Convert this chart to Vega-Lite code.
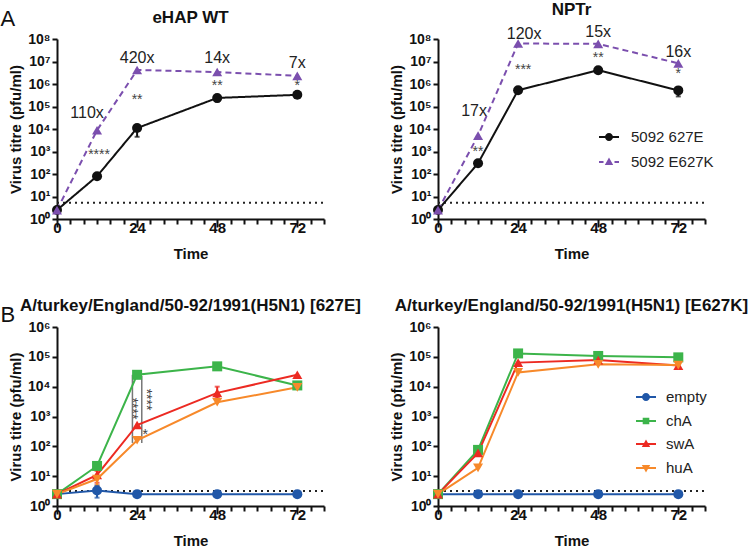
{
  "$schema": "https://vega.github.io/schema/vega-lite/v6.json",
  "padding": {"left": 0, "top": 0, "right": 0, "bottom": 0},
  "background": "white",
  "config": {
    "font": "Liberation Sans",
    "view": {"stroke": null},
    "axis": {"grid": false, "domainColor": "#111111", "domainWidth": 2, "tickColor": "#111111", "tickWidth": 2, "labelFontWeight": "bold", "labelColor": "#111111", "titleFontWeight": "bold", "titleColor": "#111111"},
    "axisX": {"labelPadding": -7, "titlePadding": 11},
    "title": {"fontSize": 17, "fontWeight": "bold", "color": "#111111", "offset": 5},
    "legend": {"labelFontSize": 15, "labelColor": "#222222"}
  },
  "datasets": {
    "growth": [
      {"panel": "eHAP WT", "virus": "5092 627E", "time": 0, "titre": 2.5},
      {"panel": "eHAP WT", "virus": "5092 627E", "time": 12, "titre": 80},
      {"panel": "eHAP WT", "virus": "5092 627E", "time": 24, "titre": 11000},
      {"panel": "eHAP WT", "virus": "5092 627E", "time": 48, "titre": 240000},
      {"panel": "eHAP WT", "virus": "5092 627E", "time": 72, "titre": 330000},
      {"panel": "eHAP WT", "virus": "5092 E627K", "time": 0, "titre": 2.5},
      {"panel": "eHAP WT", "virus": "5092 E627K", "time": 12, "titre": 8800},
      {"panel": "eHAP WT", "virus": "5092 E627K", "time": 24, "titre": 4200000},
      {"panel": "eHAP WT", "virus": "5092 E627K", "time": 48, "titre": 3400000},
      {"panel": "eHAP WT", "virus": "5092 E627K", "time": 72, "titre": 2300000},
      {"panel": "NPTr", "virus": "5092 627E", "time": 0, "titre": 2.5},
      {"panel": "NPTr", "virus": "5092 627E", "time": 12, "titre": 300},
      {"panel": "NPTr", "virus": "5092 627E", "time": 24, "titre": 530000},
      {"panel": "NPTr", "virus": "5092 627E", "time": 48, "titre": 4100000},
      {"panel": "NPTr", "virus": "5092 627E", "time": 72, "titre": 520000},
      {"panel": "NPTr", "virus": "5092 E627K", "time": 0, "titre": 2.5},
      {"panel": "NPTr", "virus": "5092 E627K", "time": 12, "titre": 5100},
      {"panel": "NPTr", "virus": "5092 E627K", "time": 24, "titre": 63000000},
      {"panel": "NPTr", "virus": "5092 E627K", "time": 48, "titre": 61000000},
      {"panel": "NPTr", "virus": "5092 E627K", "time": 72, "titre": 8300000},
      {"panel": "627E", "virus": "empty", "time": 0, "titre": 2.5},
      {"panel": "627E", "virus": "empty", "time": 12, "titre": 3.3},
      {"panel": "627E", "virus": "empty", "time": 24, "titre": 2.5},
      {"panel": "627E", "virus": "empty", "time": 48, "titre": 2.5},
      {"panel": "627E", "virus": "empty", "time": 72, "titre": 2.5},
      {"panel": "627E", "virus": "chA", "time": 0, "titre": 2.5},
      {"panel": "627E", "virus": "chA", "time": 12, "titre": 22},
      {"panel": "627E", "virus": "chA", "time": 24, "titre": 25000},
      {"panel": "627E", "virus": "chA", "time": 48, "titre": 48000},
      {"panel": "627E", "virus": "chA", "time": 72, "titre": 11000},
      {"panel": "627E", "virus": "swA", "time": 0, "titre": 2.5},
      {"panel": "627E", "virus": "swA", "time": 12, "titre": 11},
      {"panel": "627E", "virus": "swA", "time": 24, "titre": 520},
      {"panel": "627E", "virus": "swA", "time": 48, "titre": 6200},
      {"panel": "627E", "virus": "swA", "time": 72, "titre": 25000},
      {"panel": "627E", "virus": "huA", "time": 0, "titre": 2.5},
      {"panel": "627E", "virus": "huA", "time": 12, "titre": 8},
      {"panel": "627E", "virus": "huA", "time": 24, "titre": 160},
      {"panel": "627E", "virus": "huA", "time": 48, "titre": 3000},
      {"panel": "627E", "virus": "huA", "time": 72, "titre": 9500},
      {"panel": "E627K", "virus": "empty", "time": 0, "titre": 2.5},
      {"panel": "E627K", "virus": "empty", "time": 12, "titre": 2.5},
      {"panel": "E627K", "virus": "empty", "time": 24, "titre": 2.5},
      {"panel": "E627K", "virus": "empty", "time": 48, "titre": 2.5},
      {"panel": "E627K", "virus": "empty", "time": 72, "titre": 2.5},
      {"panel": "E627K", "virus": "chA", "time": 0, "titre": 2.5},
      {"panel": "E627K", "virus": "chA", "time": 12, "titre": 76},
      {"panel": "E627K", "virus": "chA", "time": 24, "titre": 130000},
      {"panel": "E627K", "virus": "chA", "time": 48, "titre": 107000},
      {"panel": "E627K", "virus": "chA", "time": 72, "titre": 96000},
      {"panel": "E627K", "virus": "swA", "time": 0, "titre": 2.5},
      {"panel": "E627K", "virus": "swA", "time": 12, "titre": 60},
      {"panel": "E627K", "virus": "swA", "time": 24, "titre": 64000},
      {"panel": "E627K", "virus": "swA", "time": 48, "titre": 78000},
      {"panel": "E627K", "virus": "swA", "time": 72, "titre": 51000},
      {"panel": "E627K", "virus": "huA", "time": 0, "titre": 2.5},
      {"panel": "E627K", "virus": "huA", "time": 12, "titre": 19},
      {"panel": "E627K", "virus": "huA", "time": 24, "titre": 30000},
      {"panel": "E627K", "virus": "huA", "time": 48, "titre": 56000},
      {"panel": "E627K", "virus": "huA", "time": 72, "titre": 53000}
    ],
    "err": [
      {"panel": "eHAP WT", "virus": "5092 627E", "time": 24, "titre": 4500, "titre2": 15000},
      {"panel": "eHAP WT", "virus": "5092 627E", "time": 48, "titre": 160000, "titre2": 290000},
      {"panel": "NPTr", "virus": "5092 627E", "time": 72, "titre": 280000, "titre2": 700000},
      {"panel": "NPTr", "virus": "5092 627E", "time": 24, "titre": 450000, "titre2": 620000},
      {"panel": "627E", "virus": "empty", "time": 12, "titre": 1.9, "titre2": 4.8},
      {"panel": "627E", "virus": "swA", "time": 48, "titre": 4200, "titre2": 10000},
      {"panel": "627E", "virus": "swA", "time": 12, "titre": 6, "titre2": 15},
      {"panel": "627E", "virus": "huA", "time": 12, "titre": 5, "titre2": 10}
    ],
    "lod": [
      {"panel": "eHAP WT", "time": 0, "titre": 5.3},
      {"panel": "eHAP WT", "time": 80, "titre": 5.3},
      {"panel": "NPTr", "time": 0, "titre": 5.3},
      {"panel": "NPTr", "time": 80, "titre": 5.3},
      {"panel": "627E", "time": 0, "titre": 3.2},
      {"panel": "627E", "time": 80, "titre": 3.2},
      {"panel": "E627K", "time": 0, "titre": 3.2},
      {"panel": "E627K", "time": 80, "titre": 3.2}
    ],
    "notes": [
      {"panel": "eHAP WT", "kind": "fold", "time": 9, "titre": 50000, "label": "110x"},
      {"panel": "eHAP WT", "kind": "fold", "time": 24, "titre": 14000000, "label": "420x"},
      {"panel": "eHAP WT", "kind": "fold", "time": 48, "titre": 14000000, "label": "14x"},
      {"panel": "eHAP WT", "kind": "fold", "time": 72, "titre": 8500000, "label": "7x"},
      {"panel": "eHAP WT", "kind": "star", "time": 12.6, "titre": 700, "label": "****"},
      {"panel": "eHAP WT", "kind": "star", "time": 24, "titre": 200000, "label": "**"},
      {"panel": "eHAP WT", "kind": "star", "time": 48, "titre": 800000, "label": "**"},
      {"panel": "eHAP WT", "kind": "star", "time": 72, "titre": 800000, "label": "*"},
      {"panel": "NPTr", "kind": "fold", "time": 10.8, "titre": 60000, "label": "17x"},
      {"panel": "NPTr", "kind": "fold", "time": 25.8, "titre": 170000000, "label": "120x"},
      {"panel": "NPTr", "kind": "fold", "time": 48, "titre": 210000000, "label": "15x"},
      {"panel": "NPTr", "kind": "fold", "time": 72, "titre": 27000000, "label": "16x"},
      {"panel": "NPTr", "kind": "star", "time": 12, "titre": 1000, "label": "**"},
      {"panel": "NPTr", "kind": "star", "time": 25.5, "titre": 4300000, "label": "***"},
      {"panel": "NPTr", "kind": "star", "time": 48, "titre": 14000000, "label": "**"},
      {"panel": "NPTr", "kind": "star", "time": 72, "titre": 2900000, "label": "*"},
      {"panel": "627E", "kind": "vstar", "time": 22.4, "titre": 1850, "label": "****"},
      {"panel": "627E", "kind": "vstar", "time": 26.6, "titre": 3700, "label": "****"},
      {"panel": "627E", "kind": "star", "time": 26.4, "titre": 240, "label": "*"}
    ],
    "sig": [
      {"panel": "627E", "time": 22.6, "titre": 25000, "titre2": 130},
      {"panel": "627E", "time": 25.4, "titre": 23000, "titre2": 130}
    ]
  },
  "vconcat": [
    {
      "title": {"text": "A", "anchor": "start", "fontSize": 22, "fontWeight": "normal", "dx": -8, "dy": 35},
      "spacing": 114,
      "bounds": "flush",
      "resolve": {"scale": {"color": "independent", "shape": "independent", "strokeDash": "independent"}},
      "hconcat": [
        {
          "width": 267, "height": 180,
          "title": {"text": "eHAP WT", "anchor": "middle", "frame": "group"},
          "encoding": {
            "x": {"field": "time", "type": "quantitative", "scale": {"domain": [0, 80], "nice": false, "zero": false},
              "axis": {"title": "Time", "values": [0,4,8,12,16,20,24,28,32,36,40,44,48,52,56,60,64,68,72,76,80], "labelExpr": "datum.value % 24 === 0 ? datum.label : ''", "tickSize": {"condition": {"test": "datum.value % 24 === 0", "value": 8}, "value": 5}, "labelFontSize": 15, "titleFontSize": 15, "labelOverlap": false, "labelFlush": false}},
            "y": {"field": "titre", "type": "quantitative", "scale": {"type": "log", "domain": [1, 100000000], "nice": false},
              "axis": {"title": "Virus titre (pfu/ml)", "values": [1,10,100,1000,10000,100000,1000000,10000000,100000000], "labelExpr": "'10' + ['⁰','¹','²','³','⁴','⁵','⁶','⁷','⁸'][round(log(datum.value)/LN10)]", "tickSize": 5, "labelFontSize": 14, "titleFontSize": 15}}
          },
          "layer": [
            {"data": {"name": "lod"}, "transform": [{"filter": "datum.panel === 'eHAP WT'"}], "mark": {"type": "line", "strokeDash": [2, 4], "strokeWidth": 2, "color": "#222222"}},
            {"data": {"name": "growth"}, "transform": [{"filter": "datum.panel === 'eHAP WT'"}], "mark": {"type": "line", "strokeWidth": 2},
              "encoding": {
                "color": {"field": "virus", "type": "nominal", "scale": {"domain": ["5092 627E", "5092 E627K"], "range": ["#111111", "#7b4fae"]}, "legend": null},
                "strokeDash": {"field": "virus", "type": "nominal", "scale": {"domain": ["5092 627E", "5092 E627K"], "range": [[1, 0], [6, 4]]}, "legend": null}
              }},
            {"data": {"name": "err"}, "transform": [{"filter": "datum.panel === 'eHAP WT'"}], "mark": {"type": "errorbar", "ticks": true, "thickness": 2},
              "encoding": {"y2": {"field": "titre2"}, "color": {"field": "virus", "type": "nominal", "scale": {"domain": ["5092 627E", "5092 E627K"], "range": ["#111111", "#7b4fae"]}, "legend": null}}},
            {"data": {"name": "growth"}, "transform": [{"filter": "datum.panel === 'eHAP WT'"}], "mark": {"type": "point", "filled": true, "size": 100, "opacity": 1},
              "encoding": {
                "color": {"field": "virus", "type": "nominal", "scale": {"domain": ["5092 627E", "5092 E627K"], "range": ["#111111", "#7b4fae"]}, "legend": null},
                "shape": {"field": "virus", "type": "nominal", "scale": {"domain": ["5092 627E", "5092 E627K"], "range": ["circle", "triangle-up"]}, "legend": null}
              }},
            {"data": {"name": "notes"}, "transform": [{"filter": "datum.panel === 'eHAP WT' && datum.kind === 'fold'"}], "mark": {"type": "text", "fontSize": 16, "color": "#222222", "baseline": "middle"}, "encoding": {"text": {"field": "label"}}},
            {"data": {"name": "notes"}, "transform": [{"filter": "datum.panel === 'eHAP WT' && datum.kind === 'star'"}], "mark": {"type": "text", "fontSize": 14, "color": "#444444", "baseline": "middle"}, "encoding": {"text": {"field": "label"}}}
          ]
        },
        {
          "width": 267, "height": 180,
          "title": {"text": "NPTr", "anchor": "middle", "frame": "group"},
          "resolve": {"scale": {"shape": "independent"}},
          "encoding": {
            "x": {"field": "time", "type": "quantitative", "scale": {"domain": [0, 80], "nice": false, "zero": false},
              "axis": {"title": "Time", "values": [0,4,8,12,16,20,24,28,32,36,40,44,48,52,56,60,64,68,72,76,80], "labelExpr": "datum.value % 24 === 0 ? datum.label : ''", "tickSize": {"condition": {"test": "datum.value % 24 === 0", "value": 8}, "value": 5}, "labelFontSize": 15, "titleFontSize": 15, "labelOverlap": false, "labelFlush": false}},
            "y": {"field": "titre", "type": "quantitative", "scale": {"type": "log", "domain": [1, 100000000], "nice": false},
              "axis": {"title": "Virus titre (pfu/ml)", "values": [1,10,100,1000,10000,100000,1000000,10000000,100000000], "labelExpr": "'10' + ['⁰','¹','²','³','⁴','⁵','⁶','⁷','⁸'][round(log(datum.value)/LN10)]", "tickSize": 5, "labelFontSize": 14, "titleFontSize": 15}}
          },
          "layer": [
            {"data": {"name": "lod"}, "transform": [{"filter": "datum.panel === 'NPTr'"}], "mark": {"type": "line", "strokeDash": [2, 4], "strokeWidth": 2, "color": "#222222"}},
            {"data": {"name": "growth"}, "transform": [{"filter": "datum.panel === 'NPTr'"}], "mark": {"type": "line", "strokeWidth": 2},
              "encoding": {
                "color": {"field": "virus", "type": "nominal", "scale": {"domain": ["5092 627E", "5092 E627K"], "range": ["#111111", "#7b4fae"]}, "legend": null},
                "strokeDash": {"field": "virus", "type": "nominal", "scale": {"domain": ["5092 627E", "5092 E627K"], "range": [[1, 0], [6, 4]]}, "legend": null}
              }},
            {"data": {"name": "err"}, "transform": [{"filter": "datum.panel === 'NPTr'"}], "mark": {"type": "errorbar", "ticks": true, "thickness": 2},
              "encoding": {"y2": {"field": "titre2"}, "color": {"field": "virus", "type": "nominal", "scale": {"domain": ["5092 627E", "5092 E627K"], "range": ["#111111", "#7b4fae"]}, "legend": null}}},
            {"data": {"name": "growth"}, "transform": [{"filter": "datum.panel === 'NPTr'"}], "mark": {"type": "point", "filled": true, "size": 100, "opacity": 1},
              "encoding": {
                "color": {"field": "virus", "type": "nominal", "scale": {"domain": ["5092 627E", "5092 E627K"], "range": ["#111111", "#7b4fae"]}, "legend": null},
                "shape": {"field": "virus", "type": "nominal", "scale": {"domain": ["5092 627E", "5092 E627K"], "range": ["circle", "triangle-up"]}, "legend": null}
              }},
            {"data": {"name": "growth"}, "transform": [{"filter": "datum.panel === 'NPTr' && datum.time === 0 && datum.virus === '5092 627E'"}], "mark": {"type": "point", "filled": true, "color": "#111111", "opacity": 0},
              "encoding": {"shape": {"field": "virus", "type": "nominal", "scale": {"domain": ["5092 627E"], "range": ["M-1,-0.1L1,-0.1L1,0.1L-1,0.1Z M-0.4,0A0.4,0.4,0,1,1,0.4,0A0.4,0.4,0,1,1,-0.4,0Z"]},
                "legend": {"title": null, "orient": "none", "legendX": 161, "legendY": 88, "symbolSize": 400, "symbolStrokeWidth": 0, "symbolOpacity": 1, "symbolFillColor": "#111111", "labelFontSize": 15, "labelOffset": 12, "padding": 0}}}},
            {"data": {"name": "growth"}, "transform": [{"filter": "datum.panel === 'NPTr' && datum.time === 0 && datum.virus === '5092 E627K'"}], "mark": {"type": "point", "filled": true, "color": "#7b4fae", "opacity": 0},
              "encoding": {"shape": {"field": "virus", "type": "nominal", "scale": {"domain": ["5092 E627K"], "range": ["M-1,-0.1L-0.55,-0.1L-0.55,0.1L-1,0.1Z M0.55,-0.1L1,-0.1L1,0.1L0.55,0.1Z M0,-0.45L0.42,0.3L-0.42,0.3Z"]},
                "legend": {"title": null, "orient": "none", "legendX": 161, "legendY": 113, "symbolSize": 400, "symbolStrokeWidth": 0, "symbolOpacity": 1, "symbolFillColor": "#7b4fae", "labelFontSize": 15, "labelOffset": 12, "padding": 0}}}},
            {"data": {"name": "notes"}, "transform": [{"filter": "datum.panel === 'NPTr' && datum.kind === 'fold'"}], "mark": {"type": "text", "fontSize": 16, "color": "#222222", "baseline": "middle"}, "encoding": {"text": {"field": "label"}}},
            {"data": {"name": "notes"}, "transform": [{"filter": "datum.panel === 'NPTr' && datum.kind === 'star'"}], "mark": {"type": "text", "fontSize": 14, "color": "#444444", "baseline": "middle"}, "encoding": {"text": {"field": "label"}}}
          ]
        }
      ]
    },
    {
      "title": {"text": "B", "anchor": "start", "fontSize": 22, "fontWeight": "normal", "dx": -8, "dy": 35},
      "spacing": 114,
      "bounds": "flush",
      "resolve": {"scale": {"color": "independent", "shape": "independent", "strokeDash": "independent"}},
      "hconcat": [
        {
          "width": 267, "height": 179,
          "title": {"text": "A/turkey/England/50-92/1991(H5N1) [627E]", "anchor": "middle", "frame": "group"},
          "encoding": {
            "x": {"field": "time", "type": "quantitative", "scale": {"domain": [0, 80], "nice": false, "zero": false},
              "axis": {"title": "Time", "values": [0,4,8,12,16,20,24,28,32,36,40,44,48,52,56,60,64,68,72,76,80], "labelExpr": "datum.value % 24 === 0 ? datum.label : ''", "tickSize": {"condition": {"test": "datum.value % 24 === 0", "value": 8}, "value": 5}, "labelFontSize": 15, "titleFontSize": 15, "labelOverlap": false, "labelFlush": false}},
            "y": {"field": "titre", "type": "quantitative", "scale": {"type": "log", "domain": [1, 1000000], "nice": false},
              "axis": {"title": "Virus titre (pfu/ml)", "values": [1,10,100,1000,10000,100000,1000000], "labelExpr": "'10' + ['⁰','¹','²','³','⁴','⁵','⁶','⁷','⁸'][round(log(datum.value)/LN10)]", "tickSize": 5, "labelFontSize": 14, "titleFontSize": 15}}
          },
          "layer": [
            {"data": {"name": "lod"}, "transform": [{"filter": "datum.panel === '627E'"}], "mark": {"type": "line", "strokeDash": [2, 4], "strokeWidth": 2, "color": "#222222"}},
            {"data": {"name": "sig"}, "transform": [{"filter": "datum.panel === '627E'"}], "mark": {"type": "rule", "color": "#777777", "strokeWidth": 1.5}, "encoding": {"y2": {"field": "titre2"}}},
            {"data": {"name": "growth"}, "transform": [{"filter": "datum.panel === '627E'"}], "mark": {"type": "line", "strokeWidth": 2},
              "encoding": {
                "color": {"field": "virus", "type": "nominal", "scale": {"domain": ["empty", "chA", "swA", "huA"], "range": ["#2057a8", "#3cb44a", "#ec2a22", "#f7892a"]}, "legend": null}
              }},
            {"data": {"name": "err"}, "transform": [{"filter": "datum.panel === '627E'"}], "mark": {"type": "errorbar", "ticks": true, "thickness": 2},
              "encoding": {"y2": {"field": "titre2"}, "color": {"field": "virus", "type": "nominal", "scale": {"domain": ["empty", "chA", "swA", "huA"], "range": ["#2057a8", "#3cb44a", "#ec2a22", "#f7892a"]}, "legend": null}}},
            {"data": {"name": "growth"}, "transform": [{"filter": "datum.panel === '627E'"}], "mark": {"type": "point", "filled": true, "size": 100, "opacity": 1},
              "encoding": {
                "color": {"field": "virus", "type": "nominal", "scale": {"domain": ["empty", "chA", "swA", "huA"], "range": ["#2057a8", "#3cb44a", "#ec2a22", "#f7892a"]}, "legend": null},
                "shape": {"field": "virus", "type": "nominal", "scale": {"domain": ["empty", "chA", "swA", "huA"], "range": ["circle", "square", "triangle-up", "triangle-down"]}, "legend": null}
              }},
            {"data": {"name": "notes"}, "transform": [{"filter": "datum.panel === '627E' && datum.kind === 'vstar'"}], "mark": {"type": "text", "fontSize": 14, "color": "#444444", "baseline": "middle", "angle": 90}, "encoding": {"text": {"field": "label"}}},
            {"data": {"name": "notes"}, "transform": [{"filter": "datum.panel === '627E' && datum.kind === 'star'"}], "mark": {"type": "text", "fontSize": 14, "color": "#444444", "baseline": "middle"}, "encoding": {"text": {"field": "label"}}}
          ]
        },
        {
          "width": 267, "height": 179,
          "title": {"text": "A/turkey/England/50-92/1991(H5N1) [E627K]", "anchor": "middle", "frame": "group"},
          "resolve": {"scale": {"shape": "independent"}},
          "encoding": {
            "x": {"field": "time", "type": "quantitative", "scale": {"domain": [0, 80], "nice": false, "zero": false},
              "axis": {"title": "Time", "values": [0,4,8,12,16,20,24,28,32,36,40,44,48,52,56,60,64,68,72,76,80], "labelExpr": "datum.value % 24 === 0 ? datum.label : ''", "tickSize": {"condition": {"test": "datum.value % 24 === 0", "value": 8}, "value": 5}, "labelFontSize": 15, "titleFontSize": 15, "labelOverlap": false, "labelFlush": false}},
            "y": {"field": "titre", "type": "quantitative", "scale": {"type": "log", "domain": [1, 1000000], "nice": false},
              "axis": {"title": "Virus titre (pfu/ml)", "values": [1,10,100,1000,10000,100000,1000000], "labelExpr": "'10' + ['⁰','¹','²','³','⁴','⁵','⁶','⁷','⁸'][round(log(datum.value)/LN10)]", "tickSize": 5, "labelFontSize": 14, "titleFontSize": 15}}
          },
          "layer": [
            {"data": {"name": "lod"}, "transform": [{"filter": "datum.panel === 'E627K'"}], "mark": {"type": "line", "strokeDash": [2, 4], "strokeWidth": 2, "color": "#222222"}},
            {"data": {"name": "growth"}, "transform": [{"filter": "datum.panel === 'E627K'"}], "mark": {"type": "line", "strokeWidth": 2},
              "encoding": {
                "color": {"field": "virus", "type": "nominal", "scale": {"domain": ["empty", "chA", "swA", "huA"], "range": ["#2057a8", "#3cb44a", "#ec2a22", "#f7892a"]}, "legend": null}
              }},
            {"data": {"name": "growth"}, "transform": [{"filter": "datum.panel === 'E627K'"}], "mark": {"type": "point", "filled": true, "size": 100, "opacity": 1},
              "encoding": {
                "color": {"field": "virus", "type": "nominal", "scale": {"domain": ["empty", "chA", "swA", "huA"], "range": ["#2057a8", "#3cb44a", "#ec2a22", "#f7892a"]}, "legend": null},
                "shape": {"field": "virus", "type": "nominal", "scale": {"domain": ["empty", "chA", "swA", "huA"], "range": ["circle", "square", "triangle-up", "triangle-down"]}, "legend": null}
              }},
            {"data": {"name": "growth"}, "transform": [{"filter": "datum.panel === 'E627K' && datum.time === 0 && datum.virus === 'empty'"}], "mark": {"type": "point", "filled": true, "color": "#2057a8", "opacity": 0},
              "encoding": {"shape": {"field": "virus", "type": "nominal", "scale": {"domain": ["empty"], "range": ["M-1,-0.1L1,-0.1L1,0.1L-1,0.1Z M-0.4,0A0.4,0.4,0,1,1,0.4,0A0.4,0.4,0,1,1,-0.4,0Z"]},
                "legend": {"title": null, "orient": "none", "legendX": 198, "legendY": 60, "symbolSize": 400, "symbolStrokeWidth": 0, "symbolOpacity": 1, "symbolFillColor": "#2057a8", "labelFontSize": 15, "labelOffset": 10, "padding": 0}}}},
            {"data": {"name": "growth"}, "transform": [{"filter": "datum.panel === 'E627K' && datum.time === 0 && datum.virus === 'chA'"}], "mark": {"type": "point", "filled": true, "color": "#3cb44a", "opacity": 0},
              "encoding": {"shape": {"field": "virus", "type": "nominal", "scale": {"domain": ["chA"], "range": ["M-1,-0.1L1,-0.1L1,0.1L-1,0.1Z M-0.33,-0.33L0.33,-0.33L0.33,0.33L-0.33,0.33Z"]},
                "legend": {"title": null, "orient": "none", "legendX": 198, "legendY": 84, "symbolSize": 400, "symbolStrokeWidth": 0, "symbolOpacity": 1, "symbolFillColor": "#3cb44a", "labelFontSize": 15, "labelOffset": 10, "padding": 0}}}},
            {"data": {"name": "growth"}, "transform": [{"filter": "datum.panel === 'E627K' && datum.time === 0 && datum.virus === 'swA'"}], "mark": {"type": "point", "filled": true, "color": "#ec2a22", "opacity": 0},
              "encoding": {"shape": {"field": "virus", "type": "nominal", "scale": {"domain": ["swA"], "range": ["M-1,-0.1L1,-0.1L1,0.1L-1,0.1Z M0,-0.45L0.42,0.3L-0.42,0.3Z"]},
                "legend": {"title": null, "orient": "none", "legendX": 198, "legendY": 107, "symbolSize": 400, "symbolStrokeWidth": 0, "symbolOpacity": 1, "symbolFillColor": "#ec2a22", "labelFontSize": 15, "labelOffset": 10, "padding": 0}}}},
            {"data": {"name": "growth"}, "transform": [{"filter": "datum.panel === 'E627K' && datum.time === 0 && datum.virus === 'huA'"}], "mark": {"type": "point", "filled": true, "color": "#f7892a", "opacity": 0},
              "encoding": {"shape": {"field": "virus", "type": "nominal", "scale": {"domain": ["huA"], "range": ["M-1,-0.1L1,-0.1L1,0.1L-1,0.1Z M0,0.45L-0.42,-0.3L0.42,-0.3Z"]},
                "legend": {"title": null, "orient": "none", "legendX": 198, "legendY": 131, "symbolSize": 400, "symbolStrokeWidth": 0, "symbolOpacity": 1, "symbolFillColor": "#f7892a", "labelFontSize": 15, "labelOffset": 10, "padding": 0}}}}
          ]
        }
      ]
    }
  ],
  "spacing": 36,
  "resolve": {"scale": {"color": "independent", "shape": "independent", "strokeDash": "independent"}}
}
